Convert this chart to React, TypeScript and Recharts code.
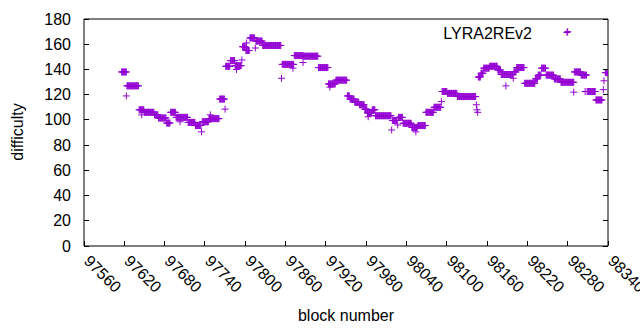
import React from 'react';
import { ScatterChart, Scatter, XAxis, YAxis, Legend } from 'recharts';

const FONT = '"Liberation Sans", Arial, sans-serif';
const COLOR = '#9400d3';

const xTicks = [97560, 97620, 97680, 97740, 97800, 97860, 97920, 97980, 98040, 98100, 98160, 98220, 98280, 98340];
const yTicks = [0, 20, 40, 60, 80, 100, 120, 140, 160, 180];

// runs of blocks that share one difficulty value
const runStart = [
  97616, 97623, 97624, 97642, 97646, 97650, 97665, 97671, 97683, 97689,
  97697, 97703, 97715, 97726, 97735, 97736, 97746, 97748, 97762, 97770,
  97771, 97778, 97785, 97787, 97795, 97796, 97801, 97802, 97807, 97815,
  97816, 97826, 97854, 97855, 97871, 97873, 97886, 97887, 97909, 97924,
  97926, 97935, 97952, 97956, 97963, 97970, 97978, 97982, 97983, 97989,
  97994, 98018, 98019, 98027, 98028, 98035, 98048, 98054, 98057, 98069,
  98081, 98092, 98093, 98101, 98116, 98144, 98145, 98146, 98147, 98151,
  98155, 98164, 98176, 98181, 98188, 98199, 98200, 98204, 98216, 98232,
  98236, 98241, 98248, 98260, 98270, 98280, 98289, 98290, 98300, 98306,
  98309, 98322, 98333, 98334, 98336,
];
const runEnd = [
  97623, 97623, 97641, 97649, 97646, 97664, 97670, 97682, 97688, 97696,
  97714, 97703, 97725, 97734, 97735, 97745, 97761, 97748, 97769, 97770,
  97777, 97784, 97794, 97787, 97795, 97800, 97806, 97802, 97814, 97815,
  97825, 97853, 97854, 97872, 97871, 97886, 97886, 97908, 97923, 97934,
  97926, 97951, 97955, 97962, 97969, 97977, 97981, 97988, 97983, 97993,
  98017, 98018, 98026, 98027, 98034, 98047, 98056, 98054, 98068, 98080,
  98091, 98092, 98100, 98115, 98143, 98144, 98145, 98146, 98150, 98154,
  98163, 98175, 98180, 98198, 98188, 98199, 98203, 98215, 98231, 98235,
  98240, 98247, 98259, 98269, 98289, 98280, 98289, 98299, 98308, 98306,
  98321, 98331, 98333, 98334, 98340,
];
const runValue = [
  138, 119, 127, 108, 104, 106, 104, 101.5, 97.5, 106,
  102, 98.5, 98, 95.5, 90.5, 98.5, 101, 104, 116.5, 108.5,
  142.5, 147, 143, 140, 147.5, 158, 155, 161, 165, 157,
  162.5, 159, 133, 144, 141, 151, 145.5, 150.5, 141.5, 128.5,
  126, 131.5, 119, 116.5, 114, 112, 108.5, 105.5, 102.5, 108,
  103.3, 92, 99.5, 96, 102, 97.3, 94, 90.5, 95.5, 106,
  110, 114.5, 122.5, 121, 118.5, 112, 108, 106, 134, 137,
  141, 142.5, 139.5, 136, 127, 133, 138, 141.5, 129, 132.5,
  135.5, 141, 135.5, 132.5, 129.8, 170, 122, 138, 135.5, 122.5,
  122.5, 115.8, 124, 131, 137.5,
];

const data: { block: number; difficulty: number }[] = [];
runStart.forEach((s, i) => {
  for (let b = s; b <= runEnd[i]; b++) data.push({ block: b, difficulty: runValue[i] });
});

const Plus = (props: any) => {
  const { cx, cy } = props;
  if (cx == null || cy == null) return null;
  return (
    <path
      d={`M${cx - 3.5},${cy}H${cx + 3.5}M${cx},${cy - 3.5}V${cy + 3.5}`}
      stroke={COLOR}
      strokeWidth={1}
      fill="none"
    />
  );
};

const BottomTick = ({ x, y, payload }: any) => (
  <g>
    <line x1={x} y1={y} x2={x} y2={y - 5} stroke="#000" shapeRendering="crispEdges" />
    <text
      x={x - 1}
      y={y + 16}
      transform={`rotate(45, ${x - 1}, ${y + 16})`}
      fontSize={16}
      fontFamily={FONT}
      fill="#000"
    >
      {payload.value}
    </text>
  </g>
);

const TopTick = ({ x, y }: any) => (
  <line x1={x} y1={y} x2={x} y2={y + 5} stroke="#000" shapeRendering="crispEdges" />
);

const LeftTick = ({ x, y, payload }: any) => (
  <g>
    <line x1={x} y1={y} x2={x + 5} y2={y} stroke="#000" shapeRendering="crispEdges" />
    <text x={x - 13} y={y + 5.5} textAnchor="end" fontSize={16} fontFamily={FONT} fill="#000">
      {payload.value}
    </text>
  </g>
);

const RightTick = ({ x, y }: any) => (
  <line x1={x} y1={y} x2={x - 5} y2={y} stroke="#000" shapeRendering="crispEdges" />
);

const YTitle = () => (
  <text
    x={17}
    y={132}
    transform="rotate(-90, 17, 132)"
    textAnchor="middle"
    dominantBaseline="central"
    fontSize={16}
    fontFamily={FONT}
    fill="#000"
  >
    difficulty
  </text>
);

const XTitle = () => (
  <text x={346} y={321} textAnchor="middle" fontSize={16} fontFamily={FONT} fill="#000">
    block number
  </text>
);

const LegendContent = () => (
  <svg width={200} height={26} style={{ display: 'block' }}>
    <text x={132} y={18.5} textAnchor="end" fontSize={16} fontFamily={FONT} fill="#000">
      LYRA2REv2
    </text>
    <path d="M163.5,12.5H170.5M167,9V16" stroke={COLOR} strokeWidth={1} fill="none" />
  </svg>
);

export default function App() {
  return (
    <div style={{ position: 'absolute', left: 0, top: 0, background: '#fff' }}>
      <ScatterChart width={640} height={330} margin={{ top: 0, right: 0, bottom: 0, left: 0 }}>
        <XAxis
          xAxisId="b"
          dataKey="block"
          type="number"
          domain={[97560, 98340]}
          ticks={xTicks}
          interval={0}
          orientation="bottom"
          height={84}
          tickSize={0}
          tickMargin={0}
          tickLine={false}
          tick={<BottomTick />}
          axisLine={{ stroke: '#000' }}
          label={<XTitle />}
          allowDataOverflow
        />
        <XAxis
          xAxisId="t"
          type="number"
          domain={[97560, 98340]}
          ticks={xTicks}
          interval={0}
          orientation="top"
          height={19}
          tickSize={0}
          tickMargin={0}
          tickLine={false}
          tick={<TopTick />}
          axisLine={{ stroke: '#000' }}
          allowDataOverflow
        />
        <YAxis
          yAxisId="l"
          dataKey="difficulty"
          type="number"
          domain={[0, 180]}
          ticks={yTicks}
          interval={0}
          orientation="left"
          width={84}
          tickSize={0}
          tickMargin={0}
          tickLine={false}
          tick={<LeftTick />}
          axisLine={{ stroke: '#000' }}
          label={<YTitle />}
          allowDataOverflow
        />
        <YAxis
          yAxisId="r"
          type="number"
          domain={[0, 180]}
          ticks={yTicks}
          interval={0}
          orientation="right"
          width={32}
          tickSize={0}
          tickMargin={0}
          tickLine={false}
          tick={<RightTick />}
          axisLine={{ stroke: '#000' }}
          allowDataOverflow
        />
        <Legend
          layout="horizontal"
          verticalAlign="middle"
          align="center"
          content={<LegendContent />}
          wrapperStyle={{ position: 'absolute', left: 400, top: 20, width: 200, height: 26 }}
        />
        <Scatter
          name="LYRA2REv2"
          data={data}
          xAxisId="b"
          yAxisId="l"
          fill={COLOR}
          shape={<Plus />}
          isAnimationActive={false}
        />
      </ScatterChart>
    </div>
  );
}
